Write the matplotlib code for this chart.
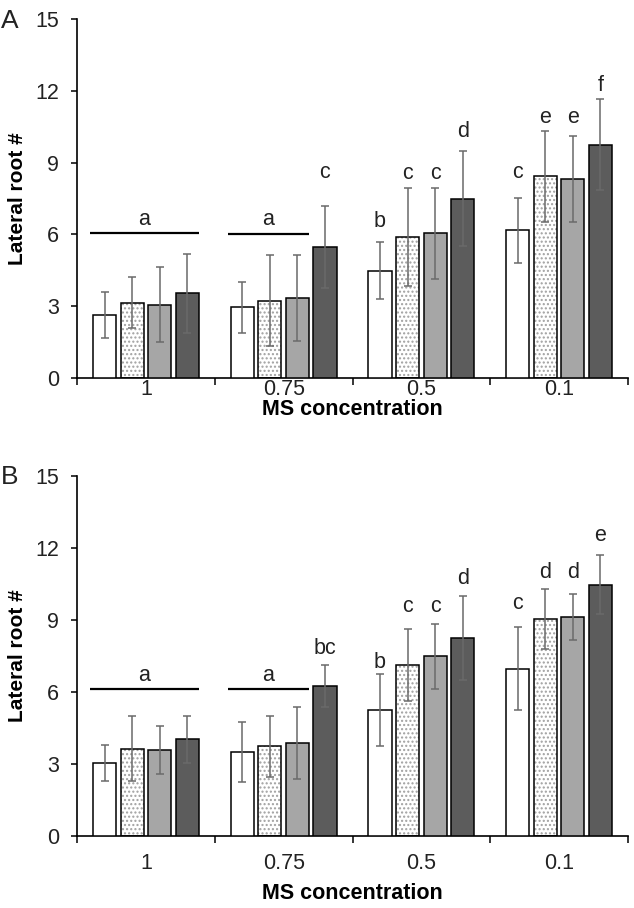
import matplotlib
matplotlib.use("Agg")
import matplotlib.pyplot as plt
import numpy as np

plt.rcParams['font.family'] = ['Liberation Sans', 'DejaVu Sans']
plt.rcParams['hatch.linewidth'] = 1.0

groups = ["1", "0.75", "0.5", "0.1"]

A_means = [[2.63, 3.15, 3.07, 3.54],
           [2.95, 3.22, 3.33, 5.47],
           [4.49, 5.90, 6.04, 7.50],
           [6.17, 8.43, 8.33, 9.74]]
A_errs = [[0.95, 1.05, 1.55, 1.65],
          [1.08, 1.90, 1.80, 1.73],
          [1.20, 2.04, 1.90, 2.00],
          [1.35, 1.90, 1.80, 1.90]]
A_letters = [["", "", "", ""],
             ["", "", "", "c"],
             ["b", "c", "c", "d"],
             ["c", "e", "e", "f"]]
A_letter_y = [[0, 0, 0, 0],
              [0, 0, 0, 8.34],
              [6.29, 8.33, 8.33, 10.07],
              [8.34, 10.67, 10.67, 11.98]]

B_means = [[3.04, 3.63, 3.58, 4.04],
           [3.49, 3.74, 3.88, 6.24],
           [5.24, 7.14, 7.49, 8.24],
           [6.97, 9.05, 9.12, 10.47]]
B_errs = [[0.76, 1.35, 1.00, 0.98],
          [1.25, 1.27, 1.50, 0.87],
          [1.50, 1.50, 1.35, 1.76],
          [1.74, 1.24, 0.95, 1.24]]
B_letters = [["", "", "", ""],
             ["", "", "", "bc"],
             ["b", "c", "c", "d"],
             ["c", "d", "d", "e"]]
B_letter_y = [[0, 0, 0, 0],
              [0, 0, 0, 7.57],
              [7.01, 9.32, 9.32, 10.48],
              [9.44, 10.73, 10.73, 12.28]]

# group-level "a" annotations: (group index, number of bars spanned, line height, text baseline)
A_group_marks = [(0, 4, 6.04, 6.41), (1, 3, 6.03, 6.41)]
B_group_marks = [(0, 4, 6.14, 6.47), (1, 3, 6.13, 6.47)]

fills = ['white', 'white', '#a6a6a6', '#5c5c5c']
hatches = [None, '....', None, None]
pitch = 0.2
width = 0.168
offsets = np.array([-1.5, -0.5, 0.5, 1.5]) * pitch
FS = 15.5


def draw(ax, means, errs, letters, letter_y, gmarks, tick_pad, xlabelpad):
    means = np.array(means)
    errs = np.array(errs)
    centers = np.arange(len(groups)) + 0.5
    for j in range(4):
        xs = centers + offsets[j]
        if hatches[j]:
            ax.bar(xs, means[:, j], width, color='white', edgecolor='#a0a0a0',
                   linewidth=0, hatch=hatches[j], zorder=2)
            ax.bar(xs, means[:, j], width, color='none', edgecolor='black',
                   linewidth=1.1, zorder=3)
        else:
            ax.bar(xs, means[:, j], width, color=fills[j], edgecolor='black',
                   linewidth=1.1, zorder=3)
        ax.errorbar(xs, means[:, j], yerr=errs[:, j], fmt='none', ecolor='#6a6a6a',
                    elinewidth=1.1, capsize=2.6, capthick=1.1, zorder=4)
        for i in range(len(groups)):
            if letters[i][j]:
                ax.text(xs[i], letter_y[i][j], letters[i][j], ha='center',
                        va='baseline', fontsize=FS, color='#222222', zorder=5)
    for g, n, ly, ty in gmarks:
        x0 = centers[g] + offsets[0] - width / 2 - 0.02
        x1 = centers[g] + offsets[n - 1] + width / 2
        ax.plot([x0, x1], [ly, ly], color='black', lw=1.6, zorder=5,
                solid_capstyle='butt')
        ax.text((x0 + x1) / 2, ty, 'a', ha='center', va='baseline',
                fontsize=FS, color='#222222')

    ax.set_xlim(0, len(groups))
    ax.set_ylim(0, 15)
    ax.set_yticks([0, 3, 6, 9, 12, 15])
    ax.set_xticks(np.arange(len(groups) + 1))
    ax.set_xticklabels([])
    ax.set_xticks(centers, minor=True)
    ax.set_xticklabels(groups, minor=True)
    ax.tick_params(axis='x', which='major', direction='out', length=5, width=1.1)
    ax.tick_params(axis='x', which='minor', length=0, pad=tick_pad,
                   labelsize=FS, labelcolor='#222222')
    ax.tick_params(axis='y', direction='out', length=4, width=1.1, pad=9,
                   labelsize=FS, labelcolor='#222222')
    for s in ['top', 'right']:
        ax.spines[s].set_visible(False)
    for s in ['left', 'bottom']:
        ax.spines[s].set_linewidth(1.2)
    ax.set_ylabel('Lateral root #', fontsize=15, fontweight='bold', labelpad=6)
    ax.set_xlabel('MS concentration', fontsize=15.5, fontweight='bold',
                  labelpad=xlabelpad)


fig = plt.figure(figsize=(6.34, 9.08), dpi=100)
axA = fig.add_axes([77 / 634, 1 - 378 / 908, 551 / 634, 359 / 908])
axB = fig.add_axes([77 / 634, 1 - 836 / 908, 551 / 634, 360 / 908])
draw(axA, A_means, A_errs, A_letters, A_letter_y, A_group_marks, 1, -1)
draw(axB, B_means, B_errs, B_letters, B_letter_y, B_group_marks, 12, 7)
fig.text(1 / 634, 1 - 21 / 908, 'A', fontsize=19, ha='left', va='center',
         color='#222222')
fig.text(1 / 634, 1 - 477 / 908, 'B', fontsize=19, ha='left', va='center',
         color='#222222')
fig.savefig('out.png', dpi=100)
